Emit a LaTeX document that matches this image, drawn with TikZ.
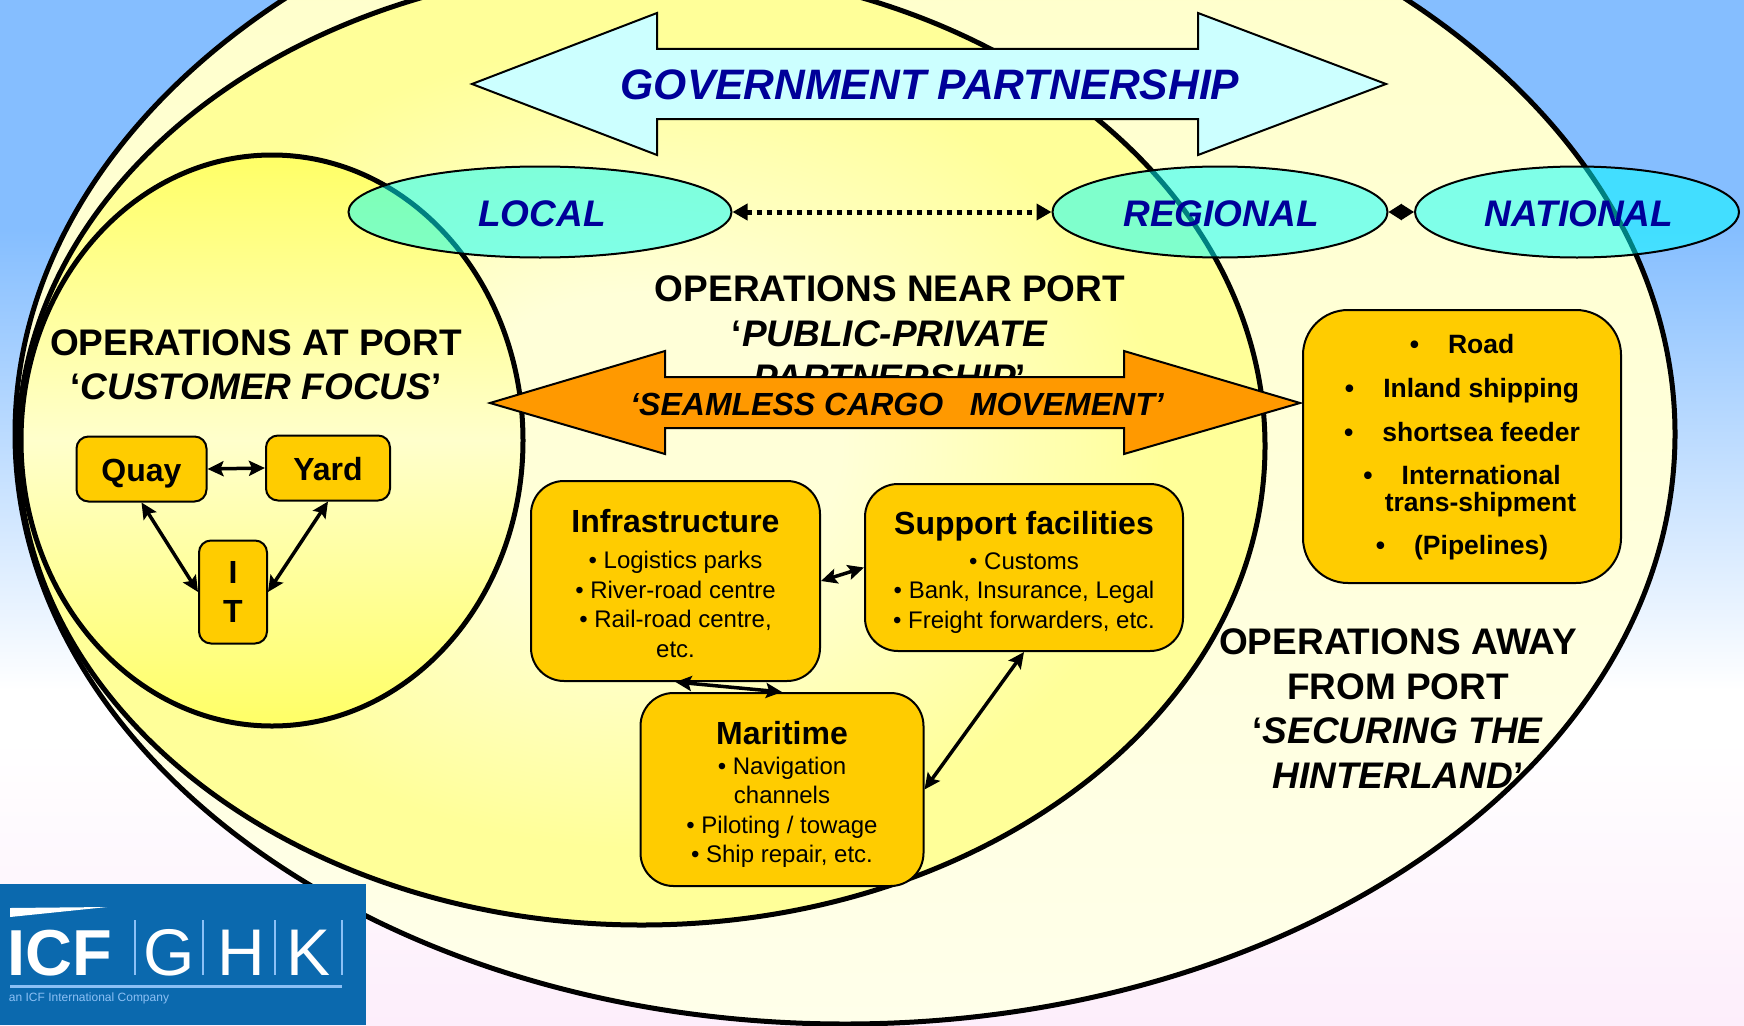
\documentclass[tikz,border=0pt]{standalone}
\usepackage{fontspec}
\setmainfont{Liberation Sans}
\usepackage{xcolor}
\usetikzlibrary{shapes.geometric, arrows.meta, positioning}

\definecolor{skyblue}{HTML}{85BEFF}
\definecolor{palepink}{HTML}{FDEEFB}
\definecolor{boxgold}{HTML}{FFCC00}
\definecolor{cargoorange}{HTML}{FF9900}
\definecolor{govcyan}{HTML}{CCFFFF}
\definecolor{ovalcyan}{HTML}{00FFFF}
\definecolor{navytext}{HTML}{000099}
\definecolor{logoblue}{HTML}{0B69AE}
\definecolor{logoline}{HTML}{8CC0F5}
\definecolor{midcentre}{HTML}{FFFFD8}
\definecolor{midedge}{HTML}{FFFF99}
\definecolor{outertop}{HTML}{FFFFC8}
\definecolor{outerbot}{HTML}{FFFFEA}
\definecolor{portedge}{HTML}{FFFF66}
\definecolor{portmid}{HTML}{FFFFCC}

\pgfdeclareverticalshading{bgfade}{100bp}{color(0bp)=(palepink); color(25bp)=(palepink); color(38.9bp)=(white); color(41.3bp)=(white); color(63.8bp)=(skyblue); color(100bp)=(skyblue)}
\pgfdeclareradialshading{midfade}{\pgfpoint{0bp}{0bp}}{color(0bp)=(midcentre); color(8bp)=(midcentre); color(21bp)=(midedge); color(50bp)=(midedge)}

\newcommand{\fsz}[2]{\fontsize{#1}{#2}\selectfont}
\newcommand{\boxtitle}[2]{{\fsz{32}{39}\bfseries\rule{0pt}{#1pt}#2}}

\begin{document}
\begin{tikzpicture}[
    x=1pt, y=-1pt,
    region/.style={draw=black, line width=5pt},
    bluearrow/.style={draw=black, line width=2pt, fill=govcyan, line join=miter},
    cargoarrow/.style={draw=black, line width=2pt, fill=cargoorange, line join=miter},
    scale_oval/.style={ellipse, draw=black, line width=2pt, fill=ovalcyan, fill opacity=0.5, text opacity=1, minimum height=91pt, inner sep=0pt, text height=29pt, text depth=0pt, text=navytext, font=\fsz{37}{44}\bfseries\itshape},
    heading/.style={align=center, inner sep=0pt, font=\fsz{37}{44.5}\bfseries},
    smallbox/.style={draw=black, line width=2pt, fill=boxgold, rounded corners=12pt, align=center, inner sep=0pt, font=\fsz{32}{39}\bfseries},
    bigbox/.style={draw=black, line width=2pt, fill=boxgold, rounded corners=33pt, align=center, inner sep=0pt, font=\fsz{24}{29.5}},
    link/.style={line width=3.5pt, {Stealth[length=16pt,width=15pt,inset=3pt]}-{Stealth[length=16pt,width=15pt,inset=3pt]}},
    logotext/.style={text=white, inner sep=0pt, anchor=base}
]

    \useasboundingbox (0,0) rectangle (1744,1025);
    \clip (0,0) rectangle (1744,1025);

    % Background
    \path[shading=bgfade] (0,0) rectangle (1744,1025);

    % Regions
    \draw[region, top color=outertop, bottom color=outerbot] (845,434) ellipse [x radius=830, y radius=590];
    \draw[region, shading=midfade] (641.5,446) ellipse [x radius=623.5, y radius=479];
    \draw[region, top color=portedge, bottom color=portedge, middle color=portmid] (272,440.5) ellipse [x radius=251, y radius=285.5];

    % Text under the orange arrow
    \node[heading] (nearport) at (890,333.5) {OPERATIONS NEAR PORT\\‘\textit{PUBLIC-PRIVATE}\\\textit{PARTNERSHIP}’};

    % Partnership arrows
    \draw[bluearrow] (472,84) -- (657,13) -- (657,49) -- (1198,49) -- (1198,13) -- (1386,84) -- (1198,155) -- (1198,119) -- (657,119) -- (657,155) -- cycle;
    \node[text=navytext, font=\fsz{42.6}{48}\bfseries\itshape, inner sep=0pt] (govlabel) at (930,85) {GOVERNMENT PARTNERSHIP};
    \draw[cargoarrow] (490,403) -- (665,351) -- (665,377) -- (1124,377) -- (1124,351) -- (1300,403) -- (1124,454) -- (1124,428) -- (665,428) -- (665,454) -- cycle;
    \node[font=\fsz{32}{38}\bfseries\itshape, inner sep=0pt] (cargolabel) at (897,404) {‘SEAMLESS CARGO\ \ \ MOVEMENT’};

    % Scale ovals
    \node[scale_oval, minimum width=383pt] (local) at (540,212) {\hspace*{4pt}LOCAL};
    \node[scale_oval, minimum width=335pt] (regional) at (1220,212) {\hspace*{2pt}REGIONAL};
    \node[scale_oval, minimum width=324pt] (national) at (1577,212) {\hspace*{4pt}NATIONAL};
    \draw[line width=5pt, dash pattern=on 5pt off 5pt, {Triangle[length=15pt,width=16pt]}-{Triangle[length=15pt,width=16pt]}] (local) -- (regional);
    \draw[line width=2pt, {Triangle[length=13pt,width=16pt]}-{Triangle[length=13pt,width=16pt]}] (regional) -- (national);

    % At port
    \node[heading] (atport) at (256,365) {OPERATIONS AT PORT\\‘\textit{CUSTOMER FOCUS}’};
    \node[smallbox, minimum width=130pt, minimum height=65pt, text height=25pt, text depth=0pt] (quay) at (141.5,469) {Quay};
    \node[smallbox, minimum width=124pt, minimum height=65pt, text height=24pt, text depth=0pt] (yard) at (328,468) {Yard};
    \node[smallbox, minimum width=68pt, minimum height=103pt] (itbox) at (233,592) {I\\T};
    \draw[link] (quay.east) -- (yard.west);
    \draw[link] (quay.south) -- (itbox.west);
    \draw[link] (yard.south) -- (itbox.east);

    % Near port
    \node[bigbox, minimum width=289pt, minimum height=200pt] (infra) at (675.5,581) {\boxtitle{28}{Infrastructure}\\[6.4pt]• Logistics parks\\• River-road centre\\• Rail-road centre,\\etc.};
    \node[bigbox, minimum width=318pt, minimum height=167pt] (support) at (1024,567.5) {\boxtitle{33}{Support facilities}\\[5pt]• Customs\\• Bank, Insurance, Legal\\• Freight forwarders, etc.};
    \node[bigbox, minimum width=283pt, minimum height=193pt] (maritime) at (782,789.5) {\boxtitle{33}{Maritime}\\[0pt]• Navigation\\channels\\• Piloting / towage\\• Ship repair, etc.};
    \draw[link] (infra.east) -- (support.west);
    \draw[link] (infra.south) -- (maritime.north);
    \draw[link] (support.south) -- (maritime.east);

    % Away from port
    \node[bigbox, rounded corners=45pt, minimum width=318pt, minimum height=273pt, font=\fsz{26.5}{27}\bfseries] (modes) at (1462,446.5) {\rule{0pt}{20.4pt}•\hspace{29pt}Road\\[17pt]•\hspace{29pt}Inland shipping\\[17pt]•\hspace{29pt}shortsea feeder\\[16pt]•\hspace{29pt}International\\\hspace*{37pt}trans-shipment\\[16pt]•\hspace{29pt}(Pipelines)};
    \node[heading] (awayport) at (1398,708.5) {OPERATIONS AWAY\\FROM PORT\\‘\textit{SECURING THE}\\\textit{HINTERLAND}’};

    % Logo
    \path[fill=logoblue] (0,884) rectangle (366,1025);
    \fill[white] (10,908) -- (107,907) -- (10,917) -- cycle;
    \node[logotext, font=\fsz{65}{65}\bfseries] (icf) at (60,975) {ICF};
    \foreach \x in {135,203,275,342} {
        \draw[logoline, line width=1.5pt] (\x,920) -- (\x,975);
    }
    \node[logotext, font=\fsz{66}{66}] (logog) at (169,975) {G};
    \node[logotext, font=\fsz{66}{66}] (logoh) at (241,975) {H};
    \node[logotext, font=\fsz{66}{66}] (logok) at (309,975) {K};
    \draw[logoline, line width=3pt] (10,986) -- (342,986);
    \node[logotext, text=logoline, font=\fsz{12}{14}] (tagline) at (89,1001) {an ICF International Company};

\end{tikzpicture}
\end{document}
